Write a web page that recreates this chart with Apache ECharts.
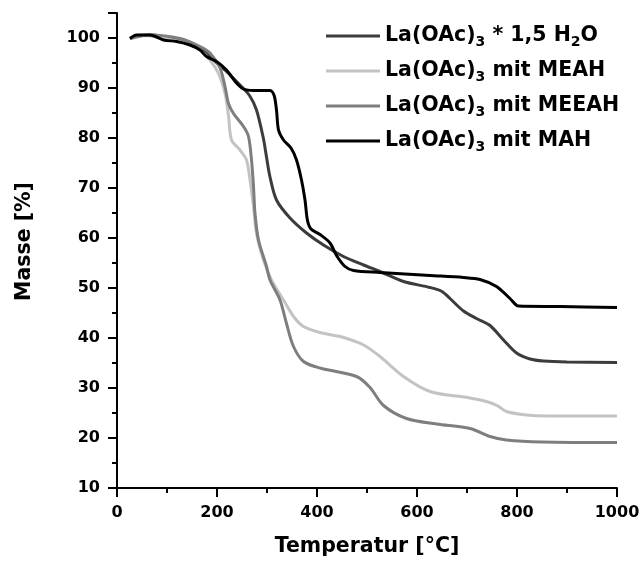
<!DOCTYPE html>
<html>
<head>
<meta charset="utf-8">
<script src="https://cdn.jsdelivr.net/npm/echarts@6/dist/echarts.min.js"></script>
<style>
html,body{margin:0;padding:0;background:#fff;}
#chart{width:641px;height:563px;}
</style>
</head>
<body>
<div id="chart"></div>
<script>
// Series names (legend order)
var seriesNames = ['La(OAc)3 * 1,5 H2O', 'La(OAc)3 mit MEAH', 'La(OAc)3 mit MEEAH', 'La(OAc)3 mit MAH'];

// La(OAc)3 * 1,5 H2O
var tempHydrate = [26, 40, 73, 110, 133, 166, 193, 219, 246, 265, 279, 293, 299, 306, 319, 346, 379, 413, 453, 493, 526, 573, 626, 650, 666, 693, 719, 746, 773, 799, 826, 853, 900, 1000];
var massHydrate = [99.9, 100.5, 100.6, 99.8, 99.3, 98, 95.6, 93.3, 90.6, 88.5, 85.6, 79.8, 76.2, 72.2, 67.6, 64, 61, 58.6, 56.3, 54.6, 53.3, 51.3, 50.1, 49.3, 47.9, 45.4, 43.9, 42.5, 39.6, 37, 35.8, 35.4, 35.2, 35.1];

// La(OAc)3 mit MEAH
var tempMEAH = [26, 53, 99, 139, 166, 186, 203, 216, 223, 229, 246, 259, 266, 273, 279, 293, 309, 333, 353, 373, 406, 450, 493, 526, 573, 626, 706, 739, 760, 779, 819, 860, 1000];
var massMEAH = [99.9, 100.5, 99.9, 98.9, 97.6, 95.6, 92.9, 88.9, 84.5, 79.6, 77.6, 75.6, 71.6, 66.3, 60.9, 55.6, 51.6, 47.6, 44.3, 42.3, 41.1, 40.2, 38.6, 36.3, 32.3, 29.3, 28, 27.3, 26.5, 25.3, 24.6, 24.4, 24.4];

// La(OAc)3 mit MEEAH
var tempMEEAH = [26, 66, 126, 166, 186, 206, 216, 223, 233, 253, 263, 269, 273, 276, 283, 299, 306, 326, 339, 353, 373, 406, 479, 506, 533, 579, 639, 706, 746, 779, 850, 1000];
var massMEEAH = [99.9, 100.6, 99.9, 98.3, 97, 94, 90.3, 86.9, 84.9, 82.3, 80.3, 75.6, 70.3, 64.9, 59.6, 54.3, 51.6, 47.6, 42.9, 38.3, 35.3, 34, 32.3, 30.1, 26.5, 23.9, 22.8, 21.9, 20.3, 19.6, 19.2, 19.1];

// La(OAc)3 mit MAH
var tempMAH = [26, 39, 66, 93, 119, 146, 166, 179, 199, 219, 239, 253, 273, 306, 314, 319, 323, 333, 348, 359, 369, 376, 381, 388, 406, 426, 439, 456, 473, 526, 626, 693, 726, 759, 786, 803, 886, 1000];
var massMAH = [99.9, 100.6, 100.6, 99.6, 99.3, 98.6, 97.6, 96.3, 95.3, 93.6, 91, 89.8, 89.5, 89.5, 88.6, 85.6, 81.6, 79.6, 78, 75.6, 71.6, 67.6, 63.5, 61.8, 60.7, 59, 56.5, 54.3, 53.5, 53.1, 52.5, 52.1, 51.7, 50.3, 47.9, 46.4, 46.3, 46.1];

var seriesColors = ['#3c3c3c', '#c3c3c3', '#7e7e7e', '#000000'];

function zip(xs, ys) { return xs.map(function (x, i) { return [x, ys[i]]; }); }
var allData = [zip(tempHydrate, massHydrate), zip(tempMEAH, massMEAH), zip(tempMEEAH, massMEEAH), zip(tempMAH, massMAH)];

var FONT = 'DejaVu Sans';
var legendRich = {
  t: { fontFamily: FONT, fontWeight: 'bold', fontSize: 20.5, color: '#000', lineHeight: 26 },
  s: { fontFamily: FONT, fontWeight: 'bold', fontSize: 14, color: '#000', lineHeight: 26, padding: [12, 0, 0, 0] }
};
var legendLabels = {
  'La(OAc)3 * 1,5 H2O': '{t|La(OAc)}{s|3}{t| * 1,5 H}{s|2}{t|O}',
  'La(OAc)3 mit MEAH': '{t|La(OAc)}{s|3}{t| mit MEAH}',
  'La(OAc)3 mit MEEAH': '{t|La(OAc)}{s|3}{t| mit MEEAH}',
  'La(OAc)3 mit MAH': '{t|La(OAc)}{s|3}{t| mit MAH}'
};

var chart = echarts.init(document.getElementById('chart'), null, { renderer: 'canvas' });
chart.setOption({
  animation: false,
  backgroundColor: '#fff',
  grid: { left: 117, right: 24, top: 13, bottom: 75, containLabel: false, outerBoundsMode: 'none' },
  legend: {
    orient: 'vertical',
    left: 321,
    top: 18,
    itemWidth: 54,
    itemHeight: 3,
    itemGap: 9,
    icon: 'rect',
    data: seriesNames,
    formatter: function (n) { return legendLabels[n]; },
    textStyle: { rich: legendRich }
  },
  xAxis: {
    type: 'value', min: 0, max: 1000, interval: 200,
    name: 'Temperatur [°C]', nameLocation: 'middle', nameGap: 48,
    nameTextStyle: { fontFamily: FONT, fontWeight: 'bold', fontSize: 20.5, color: '#000' },
    axisLine: { show: true, lineStyle: { color: '#000', width: 2 } },
    axisTick: { show: true, inside: false, length: 9, lineStyle: { color: '#000', width: 2 } },
    minorTick: { show: true, splitNumber: 2, length: 5, lineStyle: { color: '#000', width: 2 } },
    splitLine: { show: false },
    axisLabel: {
      margin: 17, fontFamily: FONT, fontWeight: 'bold', fontSize: 16, color: '#000',
      formatter: function (v) { return String(v); }
    }
  },
  yAxis: {
    type: 'value', min: 10, max: 105, interval: 10,
    name: 'Masse [%]', nameLocation: 'middle', nameGap: 82,
    nameTextStyle: { fontFamily: FONT, fontWeight: 'bold', fontSize: 20.5, color: '#000', padding: [0, 0, 0, 18] },
    axisLine: { show: true, lineStyle: { color: '#000', width: 2 } },
    axisTick: { show: true, inside: false, length: 9, lineStyle: { color: '#000', width: 2 } },
    minorTick: { show: true, splitNumber: 2, length: 5, lineStyle: { color: '#000', width: 2 } },
    splitLine: { show: false },
    axisLabel: {
      margin: 17, fontFamily: FONT, fontWeight: 'bold', fontSize: 16, color: '#000',
      showMaxLabel: false
    }
  },
  series: seriesNames.map(function (name, i) {
    return {
      name: name,
      type: 'line',
      data: allData[i],
      showSymbol: false,
      smooth: 0.3,
      z: i === 3 ? 5 : 3,
      lineStyle: { color: seriesColors[i], width: 3 },
      itemStyle: { color: seriesColors[i] }
    };
  })
});
</script>
</body>
</html>
